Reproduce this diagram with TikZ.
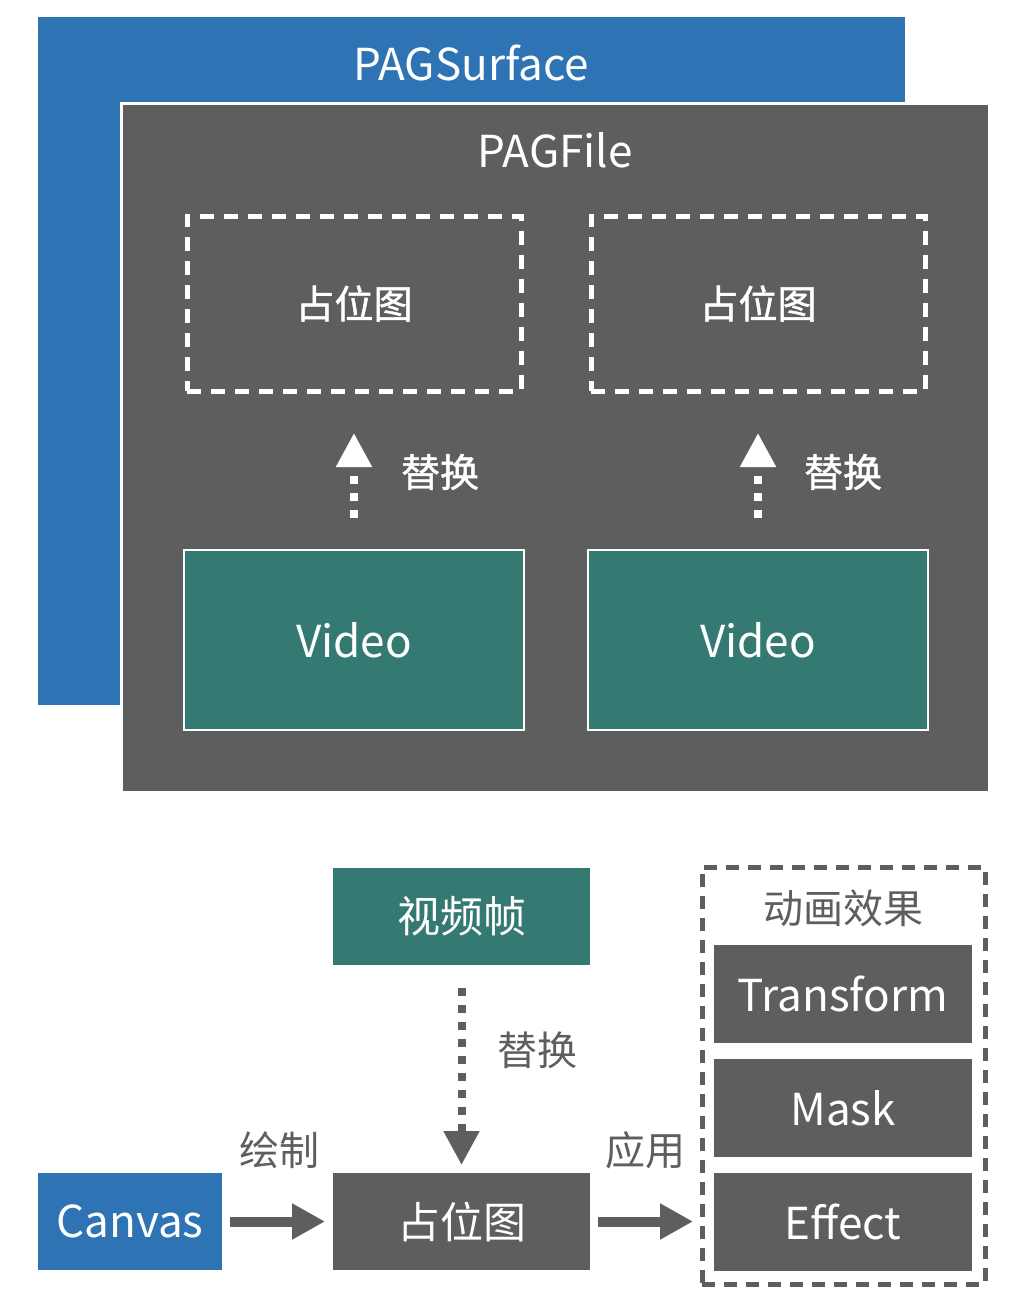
\documentclass[tikz,border=0pt]{standalone}
\usepackage{fontspec}
\setmainfont{Noto Sans CJK SC}
\newfontfamily\heavycjk[FakeBold=1.2]{Noto Sans CJK SC}
\usetikzlibrary{arrows.meta}
\definecolor{surfblue}{RGB}{46,116,181}
\definecolor{filegray}{RGB}{94,94,94}
\definecolor{vidteal}{RGB}{52,122,115}
\begin{document}
\begin{tikzpicture}[x=1pt,y=-1pt,
  blk/.style 2 args={rectangle,inner sep=0pt,outer sep=0pt,minimum width=#1,minimum height=#2},
  big/.style={font=\fontsize{44}{48}\selectfont},
  mid/.style={font=\fontsize{40}{44}\selectfont},
  midheavy/.style={font=\heavycjk\fontsize{39}{44}\selectfont},
  large/.style={font=\fontsize{43}{46}\selectfont},
  holder/.style={draw=white,line width=5pt,dash pattern=on 14pt off 10pt},
  fxframe/.style={draw=filegray,line width=5pt,dash pattern=on 13pt off 9pt},
  dotline/.style={line width=8pt,dash pattern=on 8pt off 9pt,-{Triangle[length=34pt,width=34pt]}},
  solidarrow/.style={draw=filegray,line width=10pt,-{Triangle[length=33pt,width=34pt]}},
  graylbl/.style={text=filegray,mid}]
\useasboundingbox[fill=white] (0,0) rectangle (1030,1310);

% outer surface and the file on top of it
\node[blk={867pt}{688pt},fill=surfblue] (surface) at (471.5,361) {};
\node[big,text=white] (surftxt) at (471,63) {PAGSurface};
\node[blk={868pt}{689pt},fill=filegray,draw=white,line width=3pt] (file) at (555,447.5) {};
\node[big,text=white] (filetxt) at (555,150) {PAGFile};

% placeholders inside the file
\node[blk={334pt}{175pt},holder,midheavy,text=white] (ph1) at (354,303.5) {占位图};
\node[blk={334pt}{175pt},holder,midheavy,text=white] (ph2) at (758,303.5) {占位图};

% video layers
\node[blk={340pt}{180pt},fill=vidteal,draw=white,line width=2pt,big,text=white] (vid1) at (354,640) {Video};
\node[blk={340pt}{180pt},fill=vidteal,draw=white,line width=2pt,big,text=white] (vid2) at (758,640) {Video};

\draw[white,dotline,shorten <=32pt,shorten >=42pt] (vid1.north) -- (ph1.south);
\draw[white,dotline,shorten <=32pt,shorten >=42pt] (vid2.north) -- (ph2.south);
\node[midheavy,text=white] (rep1) at (440,472) {替换};
\node[midheavy,text=white] (rep2) at (843,472) {替换};

% rendering pipeline
\node[blk={257pt}{97pt},fill=vidteal,large,text=white] (frame) at (461.5,916.5) {视频帧};
\node[blk={257pt}{97pt},fill=filegray,large,text=white] (ph3) at (461.5,1221.5) {占位图};
\node[blk={184pt}{97pt},fill=surfblue,big,text=white] (canvas) at (130,1221.5) {Canvas};

\node[blk={283pt}{417pt},fxframe] (fx) at (843.5,1075.5) {};
\node[graylbl] (fxtxt) at (843,908) {动画效果};
\node[blk={258pt}{98pt},fill=filegray,big,text=white] (tr) at (843,994) {Transform};
\node[blk={258pt}{98pt},fill=filegray,big,text=white] (mask) at (843,1108) {Mask};
\node[blk={258pt}{98pt},fill=filegray,big,text=white] (eff) at (843,1222) {Effect};
\coordinate (fxin) at (ph3.east -| fx.west);

\draw[filegray,dotline,shorten <=23pt,shorten >=8pt] (frame.south) -- (ph3.north);
\node[graylbl] (rep3) at (537,1050) {替换};

\draw[solidarrow,shorten <=8pt,shorten >=8pt] (canvas.east) -- (ph3.west);
\node[graylbl] (drawlbl) at (279,1150) {绘制};
\draw[solidarrow,shorten <=8pt,shorten >=9pt] (ph3.east) -- (fxin);
\node[graylbl] (applbl) at (645,1150) {应用};
\end{tikzpicture}
\end{document}
